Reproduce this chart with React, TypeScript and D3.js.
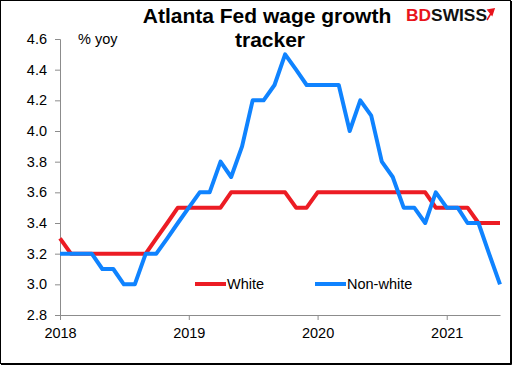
import { useEffect, useRef } from 'react';
import * as d3 from 'd3';

// monthly, Jan 2018 .. Jun 2021
const startMonth = '2018-01';
const white = [
    3.3, 3.2, 3.2, 3.2, 3.2, 3.2, 3.2, 3.2, 3.2, 3.3, 3.4, 3.5,
    3.5, 3.5, 3.5, 3.5, 3.6, 3.6, 3.6, 3.6, 3.6, 3.6, 3.5, 3.5,
    3.6, 3.6, 3.6, 3.6, 3.6, 3.6, 3.6, 3.6, 3.6, 3.6, 3.6, 3.5,
    3.5, 3.5, 3.5, 3.4, 3.4, 3.4,
];
const nonWhite = [
    3.2, 3.2, 3.2, 3.2, 3.1, 3.1, 3.0, 3.0, 3.2, 3.2, 3.3, 3.4,
    3.5, 3.6, 3.6, 3.8, 3.7, 3.9, 4.2, 4.2, 4.3, 4.5, 4.4, 4.3,
    4.3, 4.3, 4.3, 4.0, 4.2, 4.1, 3.8, 3.7, 3.5, 3.5, 3.4, 3.6,
    3.5, 3.5, 3.4, 3.4, 3.2, 3.0,
];
const yTicks = [2.8, 3.0, 3.2, 3.4, 3.6, 3.8, 4.0, 4.2, 4.4, 4.6];
const xYears = [2018, 2019, 2020, 2021];
const seriesNames = ['White', 'Non-white'];
const seriesColors = ['#ec1c24', '#0f83ff'];

const W = 512;
const H = 365;

const App = () => {
    const svgRef = useRef<SVGSVGElement>(null);

    useEffect(() => {
        const svg = d3.select(svgRef.current);
        svg.selectAll('*').remove();

        const parseMonth = d3.timeParse('%Y-%m');
        const t0 = parseMonth(startMonth) as Date;
        const dates = white.map((_, i) => d3.timeMonth.offset(t0, i));

        const x = d3
            .scaleTime()
            .domain([t0, dates[dates.length - 1]])
            .range([60, 500]);
        const y = d3.scaleLinear().domain([2.8, 4.6]).range([315, 39]);

        svg.append('rect')
            .attr('x', 0).attr('y', 0)
            .attr('width', W).attr('height', H)
            .attr('fill', '#fff');

        // outer frame
        svg.append('rect')
            .attr('x', 0.5).attr('y', 0.5)
            .attr('width', W - 2).attr('height', H - 2)
            .attr('fill', 'none')
            .attr('stroke', '#000')
            .attr('stroke-width', 1);
        svg.append('path')
            .attr('d', `M${W - 0.5},1V${H - 0.5}H1`)
            .attr('fill', 'none')
            .attr('stroke', '#000');

        const font = 'Liberation Sans, Arial, sans-serif';
        const fs = 14.5;

        // y axis
        const yAxis = svg.append('g')
            .attr('transform', 'translate(60,0)')
            .call(d3.axisLeft(y).tickValues(yTicks).tickFormat(d3.format('.1f')).tickSize(5).tickPadding(8));
        yAxis.select('.domain').attr('stroke', '#8c8c8c');
        yAxis.selectAll('line').attr('stroke', '#8c8c8c');
        yAxis.selectAll('text').attr('font-family', font).attr('font-size', fs).attr('fill', '#000');

        // x axis
        const xAxis = svg.append('g')
            .attr('transform', 'translate(0,315)')
            .call(
                d3.axisBottom(x)
                    .tickValues(xYears.map((yr) => new Date(yr, 0, 1)))
                    .tickFormat(d3.timeFormat('%Y') as any)
                    .tickSize(5)
                    .tickSizeOuter(0)
                    .tickPadding(8),
            );
        xAxis.select('.domain').attr('stroke', '#8c8c8c');
        xAxis.selectAll('line').attr('stroke', '#8c8c8c');
        xAxis.selectAll('text').attr('font-family', font).attr('font-size', fs).attr('fill', '#000');

        const line = d3
            .line<number>()
            .x((_, i) => x(dates[i]))
            .y((d) => y(d));

        [white, nonWhite].forEach((series, i) => {
            svg.append('path')
                .datum(series)
                .attr('fill', 'none')
                .attr('stroke', seriesColors[i])
                .attr('stroke-width', 4)
                .attr('stroke-linejoin', 'round')
                .attr('d', line);
        });

        // legend
        const legendX = [195, 315];
        seriesNames.forEach((name, i) => {
            const g = svg.append('g').attr('transform', `translate(${legendX[i]},284)`);
            g.append('line')
                .attr('x1', 0).attr('x2', 31)
                .attr('y1', 0).attr('y2', 0)
                .attr('stroke', seriesColors[i])
                .attr('stroke-width', 4);
            g.append('text')
                .attr('x', 32).attr('y', 5)
                .attr('font-family', font)
                .attr('font-size', fs)
                .text(name);
        });

        // unit label
        svg.append('text')
            .attr('x', 78).attr('y', 44)
            .attr('font-family', font)
            .attr('font-size', fs)
            .text('% yoy');

        // title
        const title = svg.append('text')
            .attr('text-anchor', 'middle')
            .attr('font-family', font)
            .attr('font-size', 21)
            .attr('font-weight', 'bold');
        title.append('tspan').attr('x', 267).attr('y', 23).text('Atlanta Fed wage growth');
        title.append('tspan').attr('x', 270).attr('y', 47).text('tracker');

        // logo
        const logo = svg.append('text')
            .attr('x', 406).attr('y', 21)
            .attr('font-family', font)
            .attr('font-size', 17)
            .attr('font-weight', 'bold')
            .attr('textLength', 81)
            .attr('lengthAdjust', 'spacingAndGlyphs');
        logo.append('tspan').attr('fill', '#e8141c').text('BD');
        logo.append('tspan').attr('fill', '#111').text('SWISS');
        svg.append('path')
            .attr('d', 'M487,20 L493,10 M488,10 L494,9 L492,15 Z')
            .attr('fill', '#e8141c')
            .attr('stroke', '#e8141c')
            .attr('stroke-width', 1.5);
    }, []);

    return (
        <div style={{ position: 'absolute', left: 0, top: 0 }}>
            <svg ref={svgRef} width={W} height={H} style={{ display: 'block' }}></svg>
        </div>
    );
};

export default App;
